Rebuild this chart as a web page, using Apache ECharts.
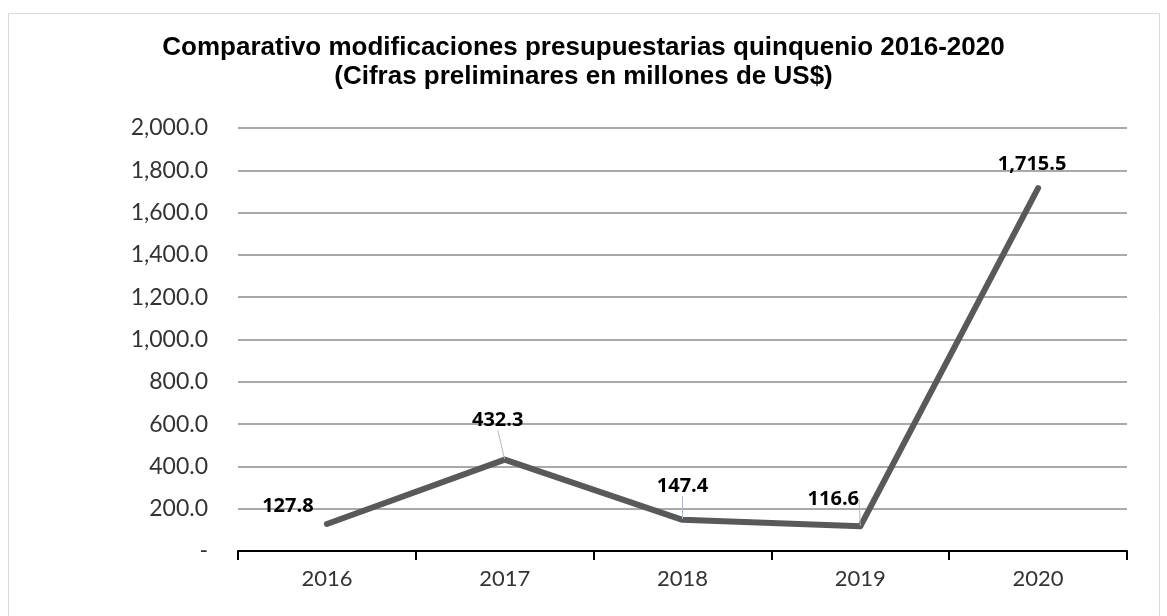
<!DOCTYPE html>
<html>
<head>
<meta charset="utf-8">
<script src="https://cdn.jsdelivr.net/npm/echarts@6/dist/echarts.min.js"></script>
<style>
html,body{margin:0;padding:0;background:#fff;}
#chart{width:1167px;height:616px;}
</style>
</head>
<body>
<div id="chart"></div>
<script>
const categories = ['2016', '2017', '2018', '2019', '2020'];
const values = [127.8, 432.3, 147.4, 116.6, 1715.5];
const titleLines = ['Comparativo modificaciones presupuestarias quinquenio 2016-2020', '(Cifras preliminares en millones de US$)'];

const labelShift = [[-39, -2], [-7, -24], [0, -18], [-27, -12], [-6, -8]];
const showLeader = [false, true, true, true, false];

function fmt(v, d) {
  return v.toLocaleString('en-US', {minimumFractionDigits: d, maximumFractionDigits: d});
}

const chart = echarts.init(document.getElementById('chart'), null, {renderer: 'canvas'});
chart.setOption({
  backgroundColor: '#fff',
  animation: false,
  title: {
    text: titleLines.join('\n'),
    left: 'center',
    top: 28,
    textStyle: {fontFamily: 'Liberation Sans', fontWeight: 'bold', fontSize: 26, color: '#000', lineHeight: 29}
  },
  graphic: [{
    type: 'rect', shape: {x: 8.5, y: 13.5, width: 1151, height: 640},
    style: {fill: 'none', stroke: '#d9d9d9', lineWidth: 1}, silent: true
  }],
  grid: {left: 238, right: 40, top: 128, bottom: 65, containLabel: false},
  xAxis: {
    type: 'category',
    data: categories,
    boundaryGap: true,
    axisLine: {lineStyle: {color: '#000', width: 2}},
    axisTick: {show: true, length: 9, lineStyle: {color: '#000', width: 2}},
    axisLabel: {fontFamily: 'Lato', fontWeight: 400, fontSize: 22, color: '#333', margin: 17}
  },
  yAxis: {
    type: 'value',
    min: 0, max: 2000, interval: 200,
    axisLine: {show: false},
    axisTick: {show: false},
    splitLine: {lineStyle: {color: '#8c8c8c', width: 1.5}},
    axisLabel: {
      fontFamily: 'Lato', fontWeight: 400, fontSize: 23, color: '#333', margin: 30,
      formatter: v => v === 0 ? '-' : fmt(v, 1)
    }
  },
  series: [{
    type: 'line',
    data: values.map((v, i) => ({
      value: v,
      labelLine: {show: showLeader[i]}
    })),
    symbol: 'circle',
    symbolSize: 1,
    showSymbol: true,
    itemStyle: {color: '#595959'},
    lineStyle: {color: '#595959', width: 6, cap: 'round', join: 'round'},
    label: {
      show: true, position: 'top', distance: 5,
      fontFamily: 'Open Sans', fontWeight: 'bold', fontSize: 20, color: '#000',
      formatter: p => fmt(p.value, 1)
    },
    labelLine: {show: false, lineStyle: {color: '#adb9ca', width: 1}},
    labelLayout: p => ({dx: labelShift[p.dataIndex][0], dy: labelShift[p.dataIndex][1]}),
    z: 3
  }]
});
</script>
</body>
</html>
